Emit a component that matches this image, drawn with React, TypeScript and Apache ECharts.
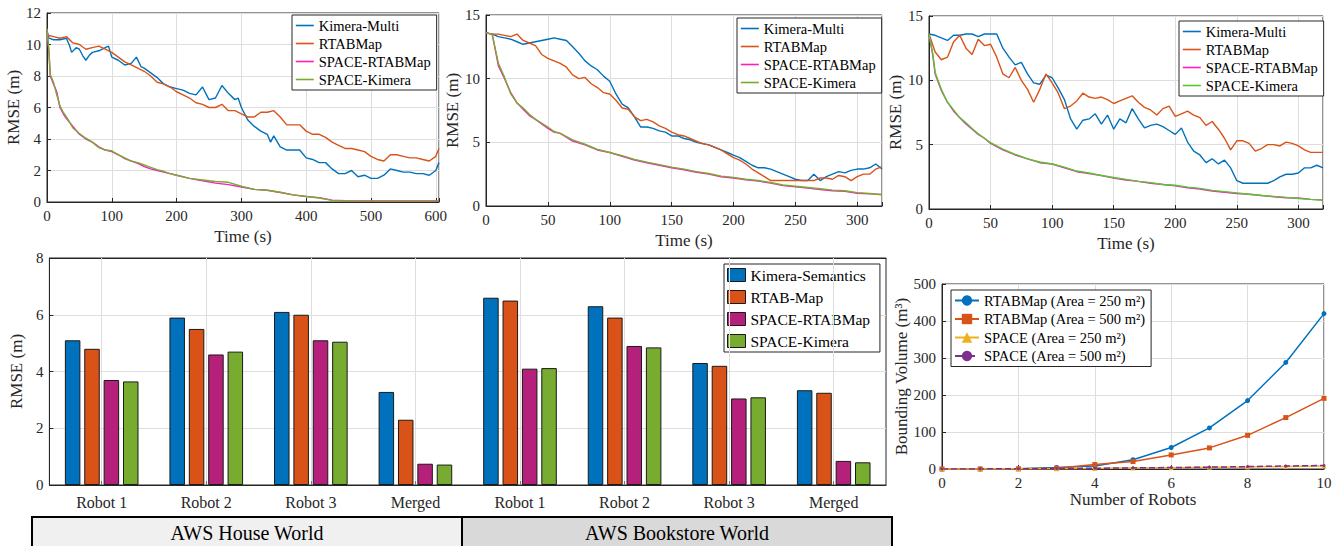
import React, { useEffect, useRef } from 'react';
import * as echarts from 'echarts';

const FONT = "'Liberation Serif', 'Times New Roman', serif";
const INK = '#262626';
const GRIDC = '#dedede';

const C_BLUE = '#0072BD';
const C_ORANGE = '#D95319';
const C_PINK = '#FF1CC0';
const C_GREEN = '#77AC30';
const C_GREEN3 = '#55C62E';
const C_YELLOW = '#EDB120';
const C_PURPLE = '#7E2F8E';
const C_MAGENTA = '#B4207A';

// ---------- Top-left: AWS House World RMSE over time ----------
const houseKimeraMulti = [[0,10.9],[3,10.4],[10,10.3],[20,10.3],[30,10.4],[35,9.9],[38,9.5],[45,9.8],[50,9.7],[55,9.3],[60,9.0],[65,9.3],[70,9.5],[80,9.6],[90,9.8],[95,9.9],[100,9.2],[110,9.0],[120,8.7],[130,8.8],[138,9.2],[145,8.6],[150,8.5],[160,8.2],[170,7.9],[180,7.5],[190,7.3],[200,7.2],[210,7.1],[220,6.9],[230,6.8],[240,7.3],[250,6.5],[260,6.6],[270,7.4],[280,6.9],[290,6.5],[295,6.6],[300,6.0],[310,5.2],[320,4.8],[330,4.5],[340,4.3],[345,3.8],[350,4.2],[360,3.5],[370,3.3],[380,3.3],[390,3.3],[400,2.8],[410,2.7],[420,2.5],[430,2.5],[440,2.1],[450,1.8],[460,1.8],[470,2.0],[480,1.6],[490,1.7],[500,1.5],[510,1.5],[520,1.7],[530,2.1],[540,2.0],[550,1.9],[560,1.9],[570,1.8],[580,1.8],[590,1.7],[600,2.0],[605,2.5]];
const houseRtab = [[0,10.6],[10,10.5],[20,10.4],[30,10.5],[40,10.1],[50,10.0],[60,9.7],[70,9.8],[80,9.9],[90,9.7],[100,9.5],[110,9.2],[120,8.9],[130,8.7],[140,8.5],[150,8.3],[160,8.0],[170,7.6],[180,7.5],[190,7.3],[200,7.0],[210,6.8],[220,6.6],[230,6.3],[240,6.2],[250,6.0],[260,6.0],[270,6.2],[280,5.8],[290,5.8],[300,5.6],[310,5.4],[320,5.4],[330,5.7],[340,5.7],[350,5.8],[360,5.4],[370,4.9],[380,4.9],[390,4.9],[400,4.5],[410,4.3],[420,4.3],[430,4.1],[440,3.8],[450,3.6],[460,3.4],[470,3.4],[480,3.3],[490,3.2],[500,2.9],[510,2.7],[520,2.6],[530,3.0],[540,3.0],[550,2.9],[560,2.8],[570,2.8],[580,2.7],[590,2.6],[600,2.9],[605,3.4]];
const houseSpaceRtab = [[0,11.0],[3,9.5],[5,8.0],[10,7.5],[15,7.0],[20,6.0],[25,5.6],[30,5.3],[40,4.8],[50,4.3],[60,4.0],[70,3.8],[80,3.5],[90,3.3],[100,3.2],[110,3.0],[120,2.75],[130,2.6],[140,2.45],[150,2.25],[160,2.1],[170,2.0],[180,1.9],[190,1.8],[200,1.7],[220,1.5],[240,1.35],[260,1.2],[280,1.1],[300,0.95],[320,0.8],[340,0.75],[360,0.6],[380,0.45],[400,0.35],[420,0.28],[440,0.12],[460,0.08],[500,0.06],[605,0.06]];
const houseSpaceKimera = [[0,11.0],[3,9.6],[5,8.1],[10,7.6],[15,6.8],[20,6.1],[25,5.7],[30,5.4],[40,4.7],[50,4.35],[60,4.05],[70,3.8],[80,3.45],[90,3.3],[100,3.25],[110,3.0],[120,2.8],[130,2.6],[140,2.5],[150,2.35],[160,2.2],[170,2.05],[180,1.95],[190,1.8],[200,1.7],[220,1.5],[240,1.4],[260,1.3],[280,1.25],[300,1.0],[320,0.8],[340,0.75],[360,0.62],[380,0.45],[400,0.35],[420,0.25],[440,0.1],[460,0.08],[500,0.07],[605,0.07]];

// ---------- Top-middle and top-right: time stamps (s) ----------
const runTime = [0,5,10,15,20,25,30,35,40,45,50,55,60,65,70,75,80,85,90,95,100,105,110,115,120,125,130,135,140,145,150,155,160,165,170,175,180,185,190,195,200,205,210,215,220,225,230,235,240,245,250,255,260,265,270,275,280,285,290,295,300,305,310,315,320];

const bookKimeraMulti = [13.6,13.5,13.3,13.2,13.1,12.9,12.7,12.8,12.9,13.0,13.1,13.2,13.1,13.0,12.5,12.0,11.4,11.0,10.7,10.2,9.8,8.8,8.0,7.7,7.0,6.2,6.2,6.1,5.9,5.8,5.5,5.5,5.3,5.2,5.0,4.9,4.8,4.6,4.4,4.2,4.0,3.8,3.5,3.2,3.0,3.0,2.9,2.7,2.5,2.3,2.1,2.0,2.0,2.5,2.0,2.3,2.5,2.7,2.6,2.8,2.9,2.9,3.0,3.3,2.9];
const bookRtab = [13.6,13.5,13.5,13.4,13.3,13.5,13.0,12.8,12.6,11.9,11.6,11.4,11.2,10.9,10.3,10.0,10.1,9.6,9.3,8.9,8.8,8.3,7.7,7.6,7.0,6.7,6.8,6.6,6.3,6.1,5.8,5.6,5.5,5.3,5.1,4.9,4.8,4.6,4.4,4.1,3.8,3.6,3.3,2.9,2.6,2.3,2.0,2.0,2.0,2.0,2.0,2.0,2.0,2.0,2.2,2.2,2.1,2.4,2.3,2.0,2.3,2.5,2.5,2.9,3.1];
const bookSpaceRtab = [[0,13.6],[5,13.5],[10,11.0],[15,10.0],[20,8.9],[25,8.1],[30,7.6],[35,7.1],[40,6.8],[50,6.1],[55,5.8],[60,5.7],[70,5.1],[80,4.8],[90,4.4],[100,4.2],[110,3.9],[120,3.6],[130,3.4],[140,3.2],[150,3.0],[160,2.85],[170,2.65],[180,2.5],[190,2.3],[200,2.2],[210,2.05],[220,1.95],[230,1.8],[240,1.6],[250,1.5],[260,1.4],[270,1.3],[280,1.2],[290,1.15],[300,1.0],[310,0.95],[320,0.9]];
const bookSpaceKimera = [[0,13.6],[5,13.5],[10,11.2],[15,10.1],[20,8.8],[25,8.1],[30,7.7],[35,7.2],[40,6.8],[50,6.2],[55,5.85],[60,5.7],[70,5.2],[80,4.85],[90,4.45],[100,4.2],[110,3.95],[120,3.65],[130,3.45],[140,3.25],[150,3.05],[160,2.9],[170,2.7],[180,2.55],[190,2.35],[200,2.25],[210,2.1],[220,2.0],[230,1.85],[240,1.65],[250,1.55],[260,1.45],[270,1.35],[280,1.25],[290,1.2],[300,1.05],[310,0.98],[320,0.88]];

const thirdKimeraMulti = [13.6,13.5,13.3,13.1,13.5,13.5,13.6,13.6,13.4,13.6,13.6,13.6,12.5,11.8,11.2,11.4,10.5,9.8,9.7,10.4,10.2,9.4,8.5,7.0,6.2,6.9,7.0,7.4,6.6,7.3,6.2,7.0,6.7,7.8,7.0,6.3,6.5,6.6,6.4,6.1,5.8,6.3,5.2,4.5,4.2,3.6,3.9,3.5,3.8,3.2,2.2,2.0,2.0,2.0,2.0,2.0,2.2,2.5,2.7,2.7,2.8,3.2,3.2,3.4,3.2];
const thirdRtab = [13.6,12.2,11.6,11.8,13.0,13.5,12.5,12.0,13.2,12.7,12.8,11.8,10.5,10.2,11.0,10.0,9.3,8.3,9.3,10.5,9.8,9.0,7.8,8.0,8.4,9.0,8.7,8.6,8.7,8.5,8.2,8.4,8.6,8.8,8.3,7.9,7.7,7.3,7.8,8.0,7.2,7.4,7.6,7.3,7.1,6.5,6.8,6.2,5.5,4.6,5.3,5.3,5.1,4.5,4.7,5.0,5.0,4.9,5.2,5.1,4.9,4.6,4.4,4.4,4.4];
const thirdSpaceRtab = [[0,13.6],[3,12.0],[5,10.5],[10,9.2],[15,8.3],[20,7.6],[25,7.1],[30,6.6],[35,6.2],[40,5.8],[45,5.5],[50,5.1],[60,4.6],[70,4.2],[80,3.9],[90,3.6],[100,3.5],[110,3.2],[120,2.9],[130,2.75],[140,2.6],[150,2.4],[160,2.25],[170,2.15],[180,2.0],[190,1.9],[200,1.8],[210,1.65],[220,1.55],[230,1.4],[240,1.3],[250,1.2],[260,1.15],[270,1.05],[280,0.95],[290,0.88],[300,0.85],[310,0.75],[320,0.7]];
const thirdSpaceKimera = [[0,13.6],[3,12.1],[5,10.6],[10,9.3],[15,8.3],[20,7.7],[25,7.1],[30,6.7],[35,6.25],[40,5.85],[45,5.5],[50,5.15],[60,4.65],[70,4.25],[80,3.9],[90,3.65],[100,3.5],[110,3.25],[120,2.95],[130,2.8],[140,2.6],[150,2.45],[160,2.3],[170,2.15],[180,2.05],[190,1.9],[200,1.85],[210,1.7],[220,1.6],[230,1.45],[240,1.35],[250,1.25],[260,1.15],[270,1.05],[280,0.98],[290,0.9],[300,0.82],[310,0.75],[320,0.7]];

const lineNames = ['Kimera-Multi', 'RTABMap', 'SPACE-RTABMap', 'SPACE-Kimera'];

// ---------- Bottom-left: bar chart ----------
const worlds = ['AWS House World', 'AWS Bookstore World'];
const barGroups = ['Robot 1', 'Robot 2', 'Robot 3', 'Merged'];
const barNames = ['Kimera-Semantics', 'RTAB-Map', 'SPACE-RTABMap ', 'SPACE-Kimera '];
const barKimeraSem = [5.1, 5.9, 6.1, 3.28, 6.6, 6.3, 4.3, 3.34];
const barRtab = [4.8, 5.5, 6.0, 2.3, 6.5, 5.9, 4.2, 3.25];
const barSpaceRtab = [3.7, 4.6, 5.1, 0.75, 4.1, 4.9, 3.05, 0.85];
const barSpaceKimera = [3.65, 4.7, 5.05, 0.72, 4.12, 4.85, 3.09, 0.8];

// ---------- Bottom-right: bounding volume ----------
const robotCounts = [0, 1, 2, 3, 4, 5, 6, 7, 8, 9, 10];
const volNames = ['RTABMap (Area = 250 m²)', 'RTABMap (Area = 500 m²)', 'SPACE (Area = 250 m²)', 'SPACE (Area = 500 m²)'];
const volRtab250 = [0, 0, 0.5, 4, 8, 25, 58, 111, 185, 288, 420];
const volRtab500 = [0, 0, 0.5, 2, 12, 20, 38, 57, 91, 139, 191];
const volSpace250 = [0, 0.2, 0.5, 1, 1.5, 2.5, 3.5, 4.5, 5.5, 7, 8];
const volSpace500 = [0, 0.3, 0.7, 1.2, 2, 3, 4, 5, 6.5, 8, 9.5];

const zip = (xs: number[], ys: number[]) => xs.map((x, i) => [x, ys[i]]);

const txt = (size: number) => ({ fontFamily: FONT, fontSize: size, color: INK });

function valAxis(gridIndex: number, min: number, max: number, interval: number, name: string, nameGap: number, vertical: boolean, extra: any = {}) {
  return {
    type: 'value', gridIndex, min, max, interval, name,
    nameLocation: 'middle', nameGap,
    nameRotate: vertical ? 90 : 0,
    nameTextStyle: txt(17),
    axisLine: { show: true, lineStyle: { color: INK, width: 1 } },
    axisTick: { show: true, inside: true, length: 4, lineStyle: { color: INK } },
    axisLabel: { ...txt(15), margin: 6, formatter: (v: number) => (Math.abs(v / interval - Math.round(v / interval)) < 1e-9 ? String(v) : '') },
    splitLine: { show: true, lineStyle: { color: GRIDC, width: 1 } },
    ...extra,
  };
}

function tl(name: string, data: any[], color: string, idx: number) {
  return {
    type: 'line', name, data, xAxisIndex: idx, yAxisIndex: idx,
    symbol: 'none', showSymbol: false, clip: true,
    lineStyle: { color, width: 1.4 }, itemStyle: { color },
  };
}

const legendBase = {
  orient: 'vertical',
  backgroundColor: '#ffffff',
  borderColor: INK,
  borderWidth: 1,
  borderRadius: 0,
  padding: [3, 6, 3, 3],
  itemWidth: 18,
  itemHeight: 14,
  itemGap: 3,
  textStyle: { fontFamily: FONT, fontSize: 14.5, color: '#000' },
};

const lineLegend = (left: number, top: number, colors: string[]) => ({
  ...legendBase,
  left, top,
  itemStyle: { opacity: 0 },
  data: lineNames.map((n, i) => ({ name: n, lineStyle: { color: colors[i], width: 1.6 }, itemStyle: { opacity: 0 } })),
});

export default function App() {
  const ref = useRef<HTMLDivElement>(null);
  useEffect(() => {
    if (!ref.current) return;
    const chart = echarts.init(ref.current, null, { renderer: 'svg' });
    const barCats: string[] = [];
    worlds.forEach((w) => barGroups.forEach((g) => barCats.push(w + '|' + g)));
    const barColors = [C_BLUE, C_ORANGE, C_MAGENTA, C_GREEN];
    const volColors = [C_BLUE, C_ORANGE, C_YELLOW, C_PURPLE];

    const option: any = {
      animation: false,
      backgroundColor: '#ffffff',
      textStyle: { fontFamily: FONT },
      grid: [
        { left: 47, top: 13, width: 392, height: 189, show: true, borderColor: INK, borderWidth: 1 },
        { left: 486, top: 15, width: 396, height: 191, show: true, borderColor: INK, borderWidth: 1 },
        { left: 929, top: 16, width: 394, height: 193, show: true, borderColor: INK, borderWidth: 1 },
        { left: 44, top: 258, width: 842, height: 227, show: true, borderColor: INK, borderWidth: 1 },
        { left: 942, top: 284, width: 382, height: 185, show: true, borderColor: INK, borderWidth: 1 },
      ],
      xAxis: [
        valAxis(0, 0, 605, 100, 'Time (s)', 26, false),
        valAxis(1, 0, 320, 50, 'Time (s)', 26, false),
        valAxis(2, 0, 320, 50, 'Time (s)', 26, false),
        {
          type: 'category', gridIndex: 3, data: barCats,
          axisLine: { show: true, lineStyle: { color: INK } },
          axisTick: { show: true, inside: true, alignWithLabel: true, length: 4, lineStyle: { color: '#777' } },
          axisLabel: { ...txt(16), margin: 9, formatter: (v: string) => v.split('|')[1] },
          splitLine: { show: false },
          z: 5,
        },
        valAxis(4, 0, 10, 2, 'Number of Robots', 21, false),
        {
          type: 'category', gridIndex: 3, data: barCats, position: 'top',
          axisLine: { show: true, lineStyle: { color: INK } },
          axisTick: { show: true, inside: true, alignWithLabel: true, length: 4, lineStyle: { color: INK } },
          axisLabel: { show: false },
          splitLine: { show: false },
        },
      ],
      yAxis: [
        valAxis(0, 0, 12, 2, 'RMSE (m)', 24, true),
        valAxis(1, 0, 15, 5, 'RMSE (m)', 18, true),
        valAxis(2, 0, 15, 5, 'RMSE (m)', 24, true),
        valAxis(3, 0, 8, 2, 'RMSE (m)', 19, true),
        valAxis(4, 0, 500, 100, 'Bounding Volume (m³)', 31, true),
      ],
      legend: [
        lineLegend(292, 15, [C_BLUE, C_ORANGE, C_PINK, C_GREEN]),
        lineLegend(737, 18, [C_BLUE, C_ORANGE, C_PINK, C_GREEN]),
        lineLegend(1179, 21, [C_BLUE, C_ORANGE, C_PINK, C_GREEN3]),
        {
          ...legendBase, left: 724, top: 264, itemWidth: 18, itemHeight: 13, itemGap: 6,
          textStyle: { fontFamily: FONT, fontSize: 15.5, color: '#000' },
          data: barNames.map((n, i) => ({ name: n, icon: 'rect', itemStyle: { color: barColors[i], borderColor: '#1a1a1a', borderWidth: 1 } })),
        },
        {
          ...legendBase, left: 951, top: 290, itemWidth: 24, itemHeight: 13, itemGap: 3.5,
          textStyle: { fontFamily: FONT, fontSize: 14.5, color: '#000' },
          data: volNames,
        },
      ],
      series: [
        tl(lineNames[0], houseKimeraMulti, C_BLUE, 0),
        tl(lineNames[1], houseRtab, C_ORANGE, 0),
        tl(lineNames[2], houseSpaceRtab, C_PINK, 0),
        tl(lineNames[3], houseSpaceKimera, C_GREEN, 0),
        tl(lineNames[0], zip(runTime, bookKimeraMulti), C_BLUE, 1),
        tl(lineNames[1], zip(runTime, bookRtab), C_ORANGE, 1),
        tl(lineNames[2], bookSpaceRtab, C_PINK, 1),
        tl(lineNames[3], bookSpaceKimera, C_GREEN, 1),
        tl(lineNames[0], zip(runTime, thirdKimeraMulti), C_BLUE, 2),
        tl(lineNames[1], zip(runTime, thirdRtab), C_ORANGE, 2),
        tl(lineNames[2], thirdSpaceRtab, C_PINK, 2),
        tl(lineNames[3], thirdSpaceKimera, C_GREEN3, 2),
        {
          // invisible carrier for the vertical category gridlines of the bar chart
          type: 'line', name: 'category gridlines', xAxisIndex: 3, yAxisIndex: 3,
          data: barKimeraSem, symbol: 'none', showSymbol: false, silent: true,
          lineStyle: { opacity: 0 }, itemStyle: { opacity: 0 }, z: 1,
          markLine: {
            silent: true, symbol: 'none', label: { show: false },
            lineStyle: { color: GRIDC, width: 1, type: 'solid' },
            data: barCats.map((c) => ({ xAxis: c })),
          },
        },
        ...[barKimeraSem, barRtab, barSpaceRtab, barSpaceKimera].map((d, i) => ({
          type: 'bar', name: barNames[i], data: d, xAxisIndex: 3, yAxisIndex: 3,
          barWidth: 15.5, barGap: '25%', z: 3,
          itemStyle: { color: barColors[i], borderColor: '#1a1a1a', borderWidth: 1 },
        })),
        ...[volRtab250, volRtab500, volSpace250, volSpace500].map((d, i) => ({
          type: 'line', name: volNames[i], data: zip(robotCounts, d), xAxisIndex: 4, yAxisIndex: 4,
          symbol: ['circle', 'rect', 'triangle', 'circle'][i],
          symbolSize: [5, 5, 5, 3][i],
          showSymbol: true,
          lineStyle: { color: volColors[i], width: 1.5, type: i === 3 ? 'dashed' : 'solid' },
          itemStyle: { color: volColors[i] },
        })),
      ],
      graphic: [
        {
          type: 'group', left: 31, top: 516, silent: true,
          children: [
            { type: 'rect', shape: { x: 0, y: 0, width: 430, height: 32 }, style: { fill: '#f0f0f0', stroke: '#000', lineWidth: 2 } },
            { type: 'text', x: 215, y: 16, style: { text: worlds[0], font: "20px 'Liberation Serif', serif", fill: '#000', textAlign: 'center', textVerticalAlign: 'middle' } },
          ],
        },
        {
          type: 'group', left: 461, top: 516, silent: true,
          children: [
            { type: 'rect', shape: { x: 0, y: 0, width: 430, height: 32 }, style: { fill: '#d9d9d9', stroke: '#000', lineWidth: 2 } },
            { type: 'text', x: 215, y: 16, style: { text: worlds[1], font: "20px 'Liberation Serif', serif", fill: '#000', textAlign: 'center', textVerticalAlign: 'middle' } },
          ],
        },
      ],
    };
    chart.setOption(option);
    return () => chart.dispose();
  }, []);
  return <div ref={ref} style={{ position: 'absolute', left: 0, top: 0, width: 1344, height: 546 }} />;
}
